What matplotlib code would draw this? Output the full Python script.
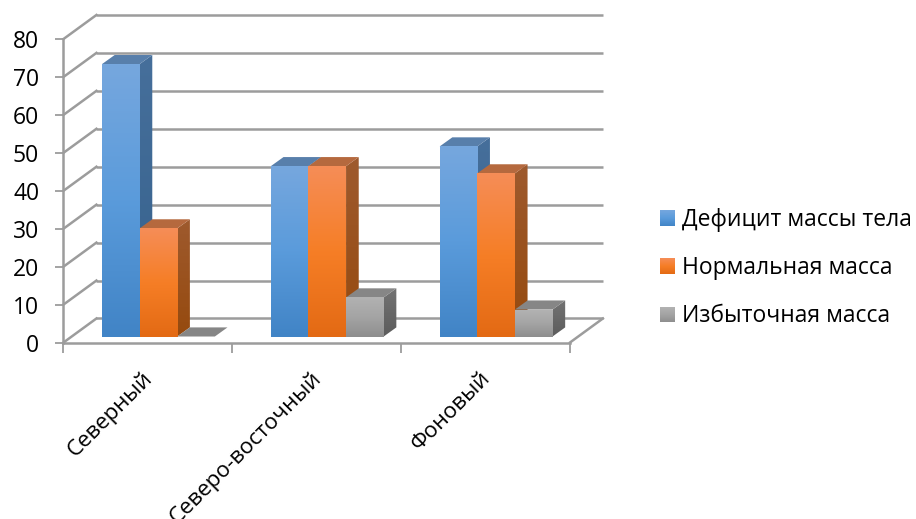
import numpy as np
import matplotlib
matplotlib.use('Agg')
import matplotlib.pyplot as plt
from matplotlib.colors import LinearSegmentedColormap
from matplotlib.patches import Polygon

plt.rcParams['font.family'] = ['Open Sans', 'DejaVu Sans']

categories = ['Северный', 'Северо-восточный', 'Фоновый']
series_names = ['Дефицит массы тела', 'Нормальная масса', 'Избыточная масса']
deficit = [71.8, 44.9, 50.1]
normal = [28.5, 44.9, 43.0]
excess = [0.0, 10.3, 7.1]
y_ticks = [0, 10, 20, 30, 40, 50, 60, 70, 80]

W, H = 916, 519

# 3d look: how far the back wall sits from the front plane, in data units
WALL_DX, WALL_DY = 0.195, 6.33
BAR_DX, BAR_DY = 0.075, 2.4
BAR_LIFT = 1.58
BAR_W = 0.2228
GROUP_OFFSET = 0.228
AXIS_COLOR = '#9c9c9c'

FACE_COLORS = [
    ['#76A7DE', '#5A9BDB', '#4184C6'],
    ['#F58D57', '#F67E26', '#E36A14'],
    ['#B2B2B2', '#A4A4A4', '#8E8E8E'],
]
SIDE_COLORS = [
    ['#466F9B', '#35618C'],
    ['#9E5A2E', '#964A0E'],
    ['#737373', '#5C5C5C'],
]
TOP_COLORS = ['#587FAB', '#B5693E', '#868686']


def gradient(colors):
    return LinearSegmentedColormap.from_list('g', colors)


GRAD = np.linspace(0, 1, 128).reshape(-1, 1)


def draw_bar(ax, x, value, k):
    y0 = BAR_LIFT
    y1 = BAR_LIFT + value
    z = 3 + k * 0.1
    if value > 0:
        ax.imshow(GRAD, cmap=gradient(FACE_COLORS[k]), extent=(x, x + BAR_W, y0, y1),
                  origin='upper', aspect='auto', zorder=z + 0.02, clip_on=False)
        # side face, shaded through a gradient clipped to its outline
        side = Polygon([(x + BAR_W, y0), (x + BAR_W + BAR_DX, y0 + BAR_DY),
                        (x + BAR_W + BAR_DX, y1 + BAR_DY), (x + BAR_W, y1)],
                       closed=True, fc='none', ec='none', zorder=z)
        ax.add_patch(side)
        im = ax.imshow(GRAD, cmap=gradient(SIDE_COLORS[k]),
                       extent=(x + BAR_W, x + BAR_W + BAR_DX, y0, y1 + BAR_DY),
                       origin='upper', aspect='auto', zorder=z)
        im.set_clip_path(side)
    ax.add_patch(Polygon([(x, y1), (x + BAR_W, y1), (x + BAR_W + BAR_DX, y1 + BAR_DY),
                          (x + BAR_DX, y1 + BAR_DY)],
                         closed=True, fc=TOP_COLORS[k], ec='none', zorder=z + 0.01, clip_on=False))


fig = plt.figure(figsize=(W / 100, H / 100), dpi=100)
ax = fig.add_axes([63.5 / W, 1 - 342.5 / H, 506.5 / W, 303.5 / H])
ax.patch.set_alpha(0)

# walls and floor
n = len(categories)
for v in y_ticks:
    ax.plot([0, WALL_DX], [v, v + WALL_DY], color=AXIS_COLOR, lw=1.8, clip_on=False, zorder=1)
    ax.plot([WALL_DX, n + WALL_DX], [v + WALL_DY, v + WALL_DY], color=AXIS_COLOR, lw=1.8,
            clip_on=False, zorder=1, solid_capstyle='butt')
ax.plot([n, n + WALL_DX], [0, WALL_DY], color=AXIS_COLOR, lw=1.8, clip_on=False, zorder=1)

for k, values in enumerate([deficit, normal, excess]):
    for i, v in enumerate(values):
        draw_bar(ax, i + GROUP_OFFSET + k * BAR_W, v, k)

ax.set_xlim(0, n)
ax.set_ylim(0, 80)
for s in ['top', 'right']:
    ax.spines[s].set_visible(False)
for s in ['left', 'bottom']:
    ax.spines[s].set_color(AXIS_COLOR)
    ax.spines[s].set_linewidth(1.8)

ax.set_yticks(y_ticks)
ax.tick_params(axis='y', length=6, width=1.3, color=AXIS_COLOR, pad=11.5, labelsize=16.5, labelcolor='black')
ax.set_xticks(range(n + 1))
ax.set_xticklabels([])
ax.tick_params(axis='x', which='major', length=7, width=1.3, color=AXIS_COLOR)
ax.set_xticks([i + 0.465 for i in range(n)], minor=True)
ax.set_xticklabels(categories, minor=True, rotation=45, ha='right', va='top',
                   rotation_mode='anchor', fontsize=16)
ax.tick_params(axis='x', which='minor', length=0, pad=18, labelcolor='black')

# legend with gradient swatches
legend_rows = [(210, 226), (258, 274), (307, 322)]
for k, name in enumerate(series_names):
    top, bottom = legend_rows[k]
    sw = fig.add_axes([660 / W, 1 - bottom / H, 15 / W, (bottom - top) / H])
    sw.imshow(GRAD, cmap=gradient(FACE_COLORS[k]), aspect='auto', origin='upper')
    sw.axis('off')
    fig.text(682 / W, 1 - bottom / H, name, fontsize=16.5, va='baseline', ha='left', color='black')

fig.savefig('out.png', dpi=100)
plt.close(fig)
